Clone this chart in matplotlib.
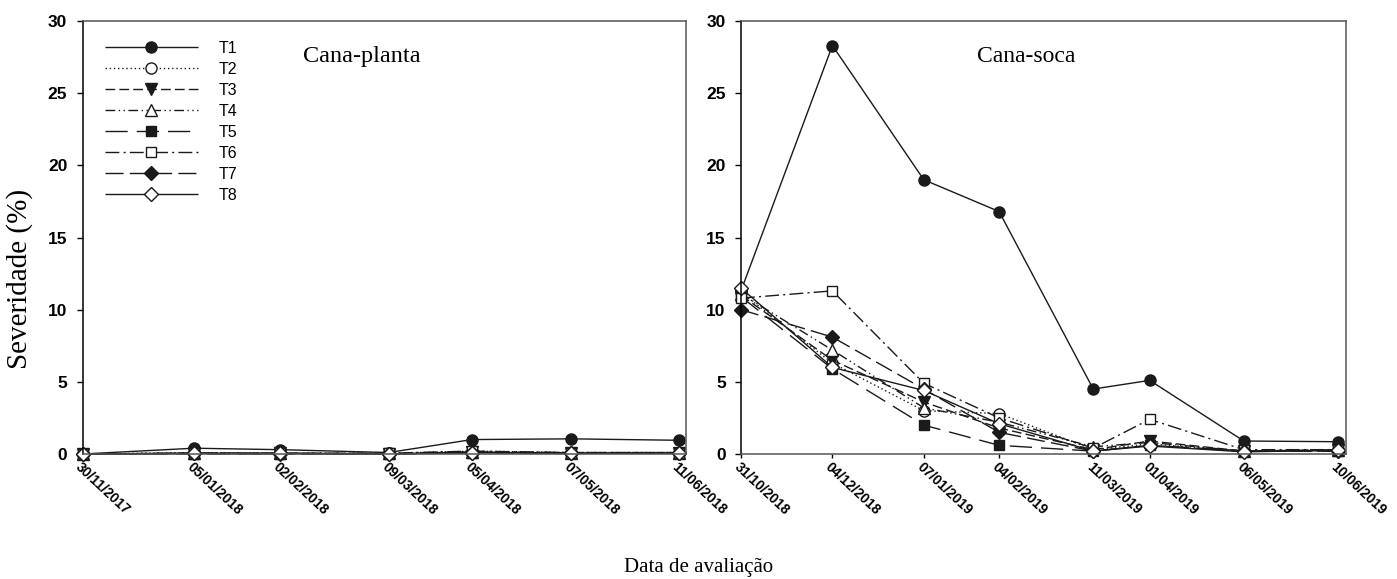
import matplotlib
matplotlib.use("Agg")
import matplotlib.pyplot as plt
import matplotlib.dates as mdates
import pandas as pd

# datas de avaliação
datas_planta = ["30/11/2017", "05/01/2018", "02/02/2018", "09/03/2018",
                "05/04/2018", "07/05/2018", "11/06/2018"]
datas_soca = ["31/10/2018", "04/12/2018", "07/01/2019", "04/02/2019",
              "11/03/2019", "01/04/2019", "06/05/2019", "10/06/2019"]

tratamentos = ["T1", "T2", "T3", "T4", "T5", "T6", "T7", "T8"]

# severidade (%) - cana-planta
planta = {
    "T1": [0.0, 0.4, 0.3, 0.1, 1.0, 1.05, 0.95],
    "T2": [0.0, 0.1, 0.05, 0.05, 0.2, 0.1, 0.1],
    "T3": [0.0, 0.05, 0.05, 0.0, 0.15, 0.05, 0.05],
    "T4": [0.0, 0.05, 0.05, 0.05, 0.15, 0.1, 0.1],
    "T5": [0.0, 0.0, 0.0, 0.0, 0.1, 0.05, 0.05],
    "T6": [0.0, 0.05, 0.05, 0.05, 0.2, 0.1, 0.1],
    "T7": [0.0, 0.05, 0.0, 0.0, 0.1, 0.05, 0.05],
    "T8": [0.0, 0.05, 0.05, 0.0, 0.1, 0.05, 0.05],
}

# severidade (%) - cana-soca
soca = {
    "T1": [11.3, 28.3, 19.0, 16.8, 4.5, 5.1, 0.9, 0.85],
    "T2": [11.2, 6.3, 3.0, 2.8, 0.3, 0.7, 0.2, 0.3],
    "T3": [11.0, 6.5, 3.6, 1.8, 0.3, 0.9, 0.2, 0.25],
    "T4": [11.1, 7.2, 3.2, 2.2, 0.5, 0.8, 0.2, 0.3],
    "T5": [10.9, 5.9, 2.0, 0.6, 0.2, 0.6, 0.2, 0.2],
    "T6": [10.8, 11.3, 4.9, 2.5, 0.4, 2.4, 0.3, 0.3],
    "T7": [10.0, 8.1, 4.5, 1.5, 0.2, 0.6, 0.2, 0.2],
    "T8": [11.5, 6.0, 4.4, 2.1, 0.2, 0.55, 0.15, 0.25],
}

# estilo de cada tratamento: marcador, preenchimento, traço
estilos = {
    "T1": ("o", "#1a1a1a", (0, ())),
    "T2": ("o", "white", (0, (1, 2))),
    "T3": ("v", "#1a1a1a", (0, (7, 3))),
    "T4": ("^", "white", (0, (7, 2.5, 1, 2.5, 1, 2.5))),
    "T5": ("s", "#1a1a1a", (0, (16, 6.5))),
    "T6": ("s", "white", (0, (10, 3, 1.5, 3))),
    "T7": ("D", "#1a1a1a", (0, (13, 4.5))),
    "T8": ("D", "white", (0, ())),
}
tam = {"o": 8, "v": 8, "^": 8, "s": 7, "D": 7}

sans = ["Liberation Sans", "DejaVu Sans"]
serif = ["Liberation Serif", "DejaVu Serif"]

fig = plt.figure(figsize=(13.97, 5.79), dpi=100)
ax1 = fig.add_axes([0.0591, 0.2159, 0.4323, 0.7478])
ax2 = fig.add_axes([0.5304, 0.2159, 0.4331, 0.7478])


def desenha(ax, datas, dados, pad_dias):
    x = pd.to_datetime(datas, format="%d/%m/%Y")
    for t in tratamentos:
        m, fc, ls = estilos[t]
        ax.plot(x, dados[t], color="#1a1a1a", lw=1.0, linestyle=ls,
                marker=m, markersize=tam[m], markerfacecolor=fc,
                markeredgecolor="#1a1a1a", markeredgewidth=1.0,
                clip_on=False, label=t)
    ax.set_xlim(mdates.date2num(x[0]), mdates.date2num(x[-1]) + pad_dias)
    ax.set_ylim(0, 30)
    ax.set_yticks(range(0, 31, 5))
    ax.set_xticks(x)
    ax.set_xticklabels(datas, rotation=-43, ha="left", va="top",
                       rotation_mode="anchor")
    for lab in ax.get_xticklabels():
        lab.set_fontfamily(sans)
        lab.set_fontweight("bold")
        lab.set_fontsize(10)
    for lab in ax.get_yticklabels():
        lab.set_fontfamily(sans)
        lab.set_fontweight("bold")
        lab.set_fontsize(12.5)
    ax.tick_params(axis="y", direction="out", length=4, width=1, pad=7)
    ax.tick_params(axis="x", direction="out", length=3, width=1, pad=1)
    ax.spines["left"].set_color("black")
    for s in ["top", "right", "bottom"]:
        ax.spines[s].set_color("#555555")
    for s in ax.spines.values():
        s.set_linewidth(1.1)


desenha(ax1, datas_planta, planta, 2.4)
desenha(ax2, datas_soca, soca, 3.0)

ax1.text(0.365, 0.917, "Cana-planta", transform=ax1.transAxes,
         fontfamily=serif, fontsize=17.5, ha="left", va="center")
ax2.text(0.39, 0.917, "Cana-soca", transform=ax2.transAxes,
         fontfamily=serif, fontsize=17, ha="left", va="center")

ax1.legend(loc="upper left", bbox_to_anchor=(0.037, 0.955), frameon=False,
           prop={"family": sans, "size": 11.5}, handlelength=5.8,
           handletextpad=1.3, labelspacing=0.38, borderpad=0,
           borderaxespad=0, numpoints=1)

fig.text(0.0143, 0.518, "Severidade (%)", fontfamily=serif, fontsize=21,
         rotation=90, ha="center", va="center")
fig.text(0.5, 0.02, "Data de avaliação", fontfamily=serif, fontsize=15,
         ha="center", va="center")

fig.savefig("out.png", dpi=100)
